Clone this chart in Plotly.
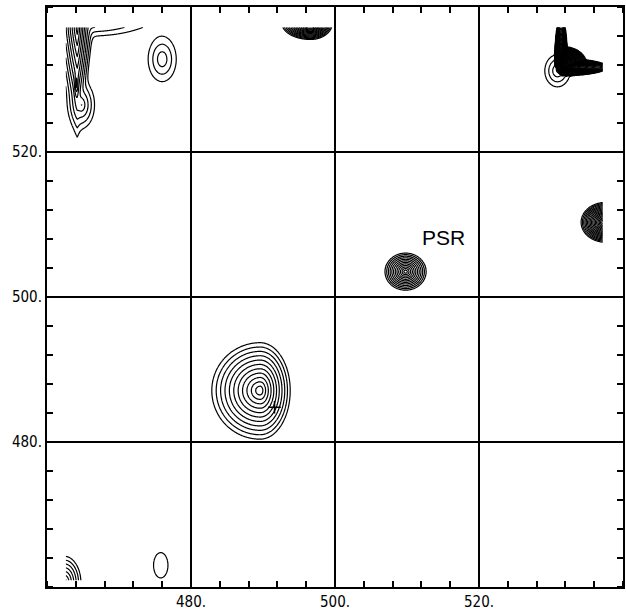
import numpy as np
import plotly.graph_objects as go

# ---- peaks (data units) ----
# order: big peak, PSR, top-left ridge (upper), top-left ridge (lower bulge), top-left arm,
#        top-left small peak, top-middle blob, top-right stem, top-right arm, top-right fillet,
#        top-right rings, right-edge peak, bottom-left corner peak, bottom small peak,
#        top-left ridge core
peak_x = [489.6, 509.8, 464.2, 464.8, 466.0, 476.0, 496.6, 531.4, 531.6, 531.8, 530.9, 537.6, 462.4, 475.8, 464.1]
peak_y = [487.1, 503.5, 537.0, 526.5, 539.0, 532.8, 537.8, 532.0, 531.7, 532.0, 531.2, 510.3, 460.6, 463.0, 529.5]
peak_levels = [12, 13, 10.5, 5, 6, 4, 20, 40, 40, 35, 4.2, 20, 8, 1.9, 8]
peak_wx_left = [0.61, 0.238, 0.28, 0.45, 0.4, 0.65, 0.21, 0.023, 0.02, 0.035, 0.55, 0.18, 0.33, 1.11, 0.07]
peak_wx_right = [0.38, 0.238, 0.22, 0.45, 1.8, 0.65, 0.16, 0.023, 0.16, 0.094, 0.55, 0.18, 0.33, 1.11, 0.07]
peak_wy_low = [0.61, 0.213, 1.54, 0.8, 0.6, 1.03, 0.12, 0.015, 0.03, 0.045, 0.69, 0.145, 0.52, 1.94, 0.5]
peak_wy_high = [0.60, 0.213, 1.54, 0.8, 0.6, 1.03, 0.12, 0.17, 0.03, 0.074, 0.69, 0.145, 0.52, 1.94, 0.5]
peak_norm = [2, 2, 1.2, 2, 2, 2, 2, 2, 2, 2, 2, 2, 2, 2, 2]

# spectrum extent
x_min, x_max = 462.6, 537.2
y_min, y_max = 460.9, 537.2

# axes
axis_range = [460, 540]
tick_values = [480, 500, 520]
tick_labels = ["480.", "500.", "520."]

# annotation and marker
label_text = "PSR"
label_x = [515.0]
label_y = [508.2]
cross_x = [491.6]
cross_y = [484.8]

step = 0.1
xs = np.arange(x_min, x_max + 1e-9, step)
ys = np.arange(y_min, y_max + 1e-9, step)
X, Y = np.meshgrid(xs, ys)
S = np.zeros_like(X)
for px, py, h, wxl, wxr, wyl, wyh, p in zip(peak_x, peak_y, peak_levels, peak_wx_left,
                                             peak_wx_right, peak_wy_low, peak_wy_high, peak_norm):
    dx = X - px
    dy = Y - py
    wx = np.where(dx < 0, wxl, wxr)
    wy = np.where(dy < 0, wyl, wyh)
    r = (np.abs(dx / wx) ** p + np.abs(dy / wy) ** p) ** (1.0 / p)
    S += np.exp(np.minimum(h - r, 80))
F = np.log(np.maximum(S, 1e-3))
F = np.clip(F, 0, None).astype(np.float32)

fig = go.Figure()
fig.add_trace(go.Contour(
    x=xs, y=ys, z=F,
    contours=dict(start=1, end=60, size=1, coloring="lines", showlabels=False),
    colorscale=[[0, "black"], [1, "black"]],
    showscale=False,
    line=dict(width=1.2, smoothing=0.6),
    hoverinfo="skip",
))
fig.add_trace(go.Scatter(
    x=cross_x, y=cross_y, mode="markers",
    marker=dict(symbol="cross-thin", size=9, line=dict(width=1.5, color="black")),
    hoverinfo="skip", showlegend=False,
))
fig.add_annotation(x=label_x[0], y=label_y[0], text=label_text, showarrow=False,
                   font=dict(family="Liberation Sans, Arial, sans-serif", size=21, color="black"))

tick_font = dict(family="Liberation Sans Narrow, DejaVu Sans Condensed, sans-serif", size=15, color="black")
axis_common = dict(
    range=axis_range, tickmode="array", tickvals=tick_values, ticktext=tick_labels,
    showgrid=True, gridcolor="black", gridwidth=1.5, zeroline=False,
    showline=True, linecolor="black", linewidth=2, mirror="ticks",
    ticks="", tickfont=tick_font,
    minor=dict(ticks="inside", dtick=4, tick0=460, ticklen=6, tickcolor="black",
               tickwidth=1.5, showgrid=False),
)
fig.update_xaxes(**axis_common)
fig.update_yaxes(**axis_common)
fig.update_layout(
    width=626, height=616,
    margin=dict(l=47, r=1, t=7, b=29),
    plot_bgcolor="white", paper_bgcolor="white",
    showlegend=False,
)
fig.write_html("out.html", config={"displayModeBar": False},
               post_script="document.body.style.margin='0';")
